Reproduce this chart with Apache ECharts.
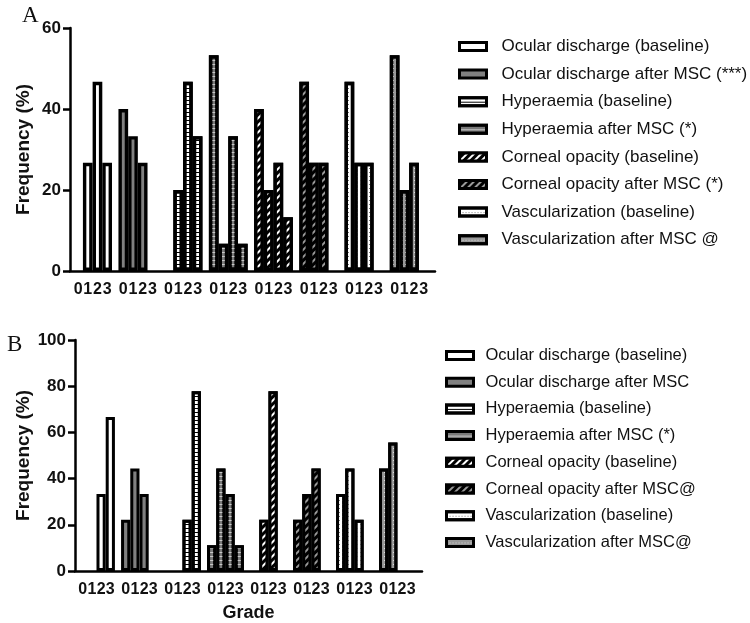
<!DOCTYPE html>
<html>
<head>
<meta charset="utf-8">
<script src="https://cdn.jsdelivr.net/npm/echarts@6/dist/echarts.min.js"></script>
<style>
html,body{margin:0;padding:0;background:#fff;}
#chart{width:750px;height:623px;}
</style>
</head>
<body>
<div id="chart"></div>
<script>
// ---------- data ----------
const gradeLabels = ['0', '1', '2', '3'];

const seriesNamesA = [
  'Ocular discharge (baseline)',
  'Ocular discharge after MSC (***)',
  'Hyperaemia (baseline)',
  'Hyperaemia after MSC (*)',
  'Corneal opacity (baseline)',
  'Corneal opacity after MSC (*)',
  'Vascularization (baseline)',
  'Vascularization after MSC @'
];
const seriesNamesB = [
  'Ocular discharge (baseline)',
  'Ocular discharge after MSC',
  'Hyperaemia (baseline)',
  'Hyperaemia after MSC (*)',
  'Corneal opacity (baseline)',
  'Corneal opacity after MSC@',
  'Vascularization (baseline)',
  'Vascularization after MSC@'
];

// Panel A values (%), grades 0..3
const ocularBaseA = [0, 26.7, 46.7, 26.7];
const ocularMscA  = [40, 33.3, 26.7, 0];
const hypBaseA    = [0, 20, 46.7, 33.3];
const hypMscA     = [53.3, 6.7, 33.3, 6.7];
const cornBaseA   = [40, 20, 26.7, 13.3];
const cornMscA    = [46.7, 26.7, 26.7, 0];
const vascBaseA   = [46.7, 26.7, 26.7, 0];
const vascMscA    = [53.3, 20, 26.7, 0];

// Panel B values (%), grades 0..3
const ocularBaseB = [0, 0, 33.3, 66.7];
const ocularMscB  = [22.2, 44.4, 33.3, 0];
const hypBaseB    = [0, 0, 22.2, 77.8];
const hypMscB     = [11.1, 44.4, 33.3, 11.1];
const cornBaseB   = [0, 22.2, 77.8, 0];
const cornMscB    = [22.2, 33.3, 44.4, 0];
const vascBaseB   = [33.3, 44.4, 22.2, 0];
const vascMscB    = [44.4, 55.6, 0, 0];

const yTicksA = [0, 20, 40, 60];
const yTicksB = [0, 20, 40, 60, 80, 100];

const groupsA = [ocularBaseA, ocularMscA, hypBaseA, hypMscA, cornBaseA, cornMscA, vascBaseA, vascMscA];
const groupsB = [ocularBaseB, ocularMscB, hypBaseB, hypMscB, cornBaseB, cornMscB, vascBaseB, vascMscB];

// ---------- slot layout (sub-slots give the narrower gap between groups) ----------
const PAD = 2, PERIOD = 14, STEP = 3;
const NSLOTS = PAD + 7 * PERIOD + 3 * STEP + 4;
const slotLabel = [];
for (let i = 0; i < NSLOTS; i++) slotLabel.push('');
for (let g = 0; g < 8; g++) {
  for (let k = 0; k < gradeLabels.length; k++) {
    slotLabel[PAD + g * PERIOD + k * STEP] = gradeLabels[k];
  }
}
const slotIds = slotLabel.map((_, i) => 's' + i);

// ---------- styles ----------
const FONT = '"Liberation Sans", Arial, sans-serif';
const GRID_A = { left: 70, top: 28, width: 365, height: 243 };
const GRID_B = { left: 75, top: 340, width: 347, height: 231 };
const fills = [
  { color: '#ffffff' },
  { color: '#808080' },
  { color: '#ffffff', decal: { symbol: 'rect', color: '#000', dashArrayX: [1, 0], dashArrayY: [1, 3], rotation: 0, symbolSize: 1 } },
  { color: '#7a7a7a', decal: { symbol: 'rect', color: '#c8c8c8', dashArrayX: [1, 0], dashArrayY: [1, 3], rotation: 0, symbolSize: 1 } },
  { color: '#000000', decal: { symbol: 'rect', color: '#fff', dashArrayX: [1, 0], dashArrayY: [2, 3], rotation: -Math.PI / 4, symbolSize: 1 } },
  { color: '#000000', decal: { symbol: 'rect', color: '#999', dashArrayX: [1, 0], dashArrayY: [2, 3], rotation: -Math.PI / 4, symbolSize: 1 } },
  { color: '#ffffff', decal: { symbol: 'rect', color: '#777', dashArrayX: [1, 2], dashArrayY: [1, 3], rotation: 0, symbolSize: 1 } },
  { color: '#999999', decal: { symbol: 'rect', color: '#ddd', dashArrayX: [1, 2], dashArrayY: [1, 3], rotation: 0, symbolSize: 1 } }
];

function buildSeries(names, groups, axisIdx, stackId, grid, border) {
  // bar box = one grade step (ECharts keeps the border inside the box), so neighbours touch
  const bw = grid.width / NSLOTS * STEP;
  return names.map((name, g) => {
    const data = [];
    groups[g].forEach((v, k) => {
      if (v > 0) data.push([PAD + g * PERIOD + k * STEP + 0.5, v]);
    });
    const st = fills[g];
    const itemStyle = { color: st.color, borderColor: '#000', borderWidth: border };
    if (st.decal) itemStyle.decal = st.decal;
    return {
      type: 'bar',
      name: name,
      xAxisIndex: axisIdx + 2,
      yAxisIndex: axisIdx,
      stack: stackId,
      barWidth: bw,
      data: data,
      itemStyle: itemStyle,
      emphasis: { disabled: true },
      animation: false
    };
  });
}

// visible category axis: line, ticks and grade labels
function xAxisCfg(gridIndex, name) {
  return {
    type: 'category',
    gridIndex: gridIndex,
    position: 'bottom',
    data: slotIds,
    name: name,
    nameLocation: 'middle',
    nameGap: 33,
    nameTextStyle: { fontFamily: FONT, fontWeight: 'bold', fontSize: 18, color: '#111' },
    axisLine: { lineStyle: { color: '#000', width: 2.5 } },
    axisTick: {
      alignWithLabel: true,
      length: 7,
      lineStyle: { color: '#000', width: 2 },
      interval: (i) => slotLabel[i] !== ''
    },
    axisLabel: {
      interval: (i) => slotLabel[i] !== '',
      formatter: (v, i) => slotLabel[i],
      fontFamily: FONT, fontWeight: 'bold', fontSize: 16, color: '#111',
      margin: 11
    },
    splitLine: { show: false },
    z: 5
  };
}
// hidden value axis sharing the same extent, used to place the bars
function xValueAxisCfg(gridIndex) {
  return {
    type: 'value',
    gridIndex: gridIndex,
    position: 'bottom',
    min: 0,
    max: NSLOTS,
    show: false,
    splitLine: { show: false }
  };
}

function yAxisCfg(gridIndex, ticks) {
  return {
    type: 'value',
    gridIndex: gridIndex,
    min: ticks[0],
    max: ticks[ticks.length - 1],
    interval: ticks[1] - ticks[0],
    name: 'Frequency (%)',
    nameLocation: 'middle',
    nameGap: 37,
    nameTextStyle: { fontFamily: FONT, fontWeight: 'bold', fontSize: 19, color: '#111' },
    axisLine: { show: true, lineStyle: { color: '#000', width: 2.5 } },
    axisTick: { show: true, length: 7, lineStyle: { color: '#000', width: 2.5 } },
    axisLabel: { fontFamily: FONT, fontWeight: 'bold', fontSize: 17, color: '#111', margin: 9 },
    splitLine: { show: false }
  };
}

function legendCfg(names, left, top, gap, fontSize, pad) {
  return {
    data: names.slice(),
    orient: 'vertical',
    left: left,
    top: top,
    itemGap: gap,
    itemWidth: 27,
    itemHeight: 8,
    icon: 'rect',
    selectedMode: false,
    itemStyle: { borderColor: '#000', borderWidth: 3 },
    textStyle: { fontFamily: FONT, fontSize: fontSize, color: '#111', lineHeight: 17, padding: [0, 0, 0, pad] }
  };
}

const chart = echarts.init(document.getElementById('chart'), null, { renderer: 'canvas' });
chart.setOption({
  animation: false,
  backgroundColor: '#fff',
  title: [
    { text: 'A', left: 17, top: -1, textStyle: { fontFamily: '"Liberation Serif", "Times New Roman", serif', fontWeight: 'normal', fontSize: 23, color: '#111' } },
    { text: 'B', left: 2, top: 328, textStyle: { fontFamily: '"Liberation Serif", "Times New Roman", serif', fontWeight: 'normal', fontSize: 23, color: '#111' } }
  ],
  grid: [
    Object.assign({ containLabel: false }, GRID_A),
    Object.assign({ containLabel: false }, GRID_B)
  ],
  xAxis: [xAxisCfg(0, ''), xAxisCfg(1, 'Grade'), xValueAxisCfg(0), xValueAxisCfg(1)],
  yAxis: [yAxisCfg(0, yTicksA), yAxisCfg(1, yTicksB)],
  legend: [
    legendCfg(seriesNamesA, 453, 33, 10.6, 17, 10),
    legendCfg(seriesNamesB, 440, 342, 9.7, 16.5, 7)
  ],
  series: buildSeries(seriesNamesA, groupsA, 0, 'A', GRID_A, 3.4).concat(buildSeries(seriesNamesB, groupsB, 1, 'B', GRID_B, 3))
});
</script>
</body>
</html>
